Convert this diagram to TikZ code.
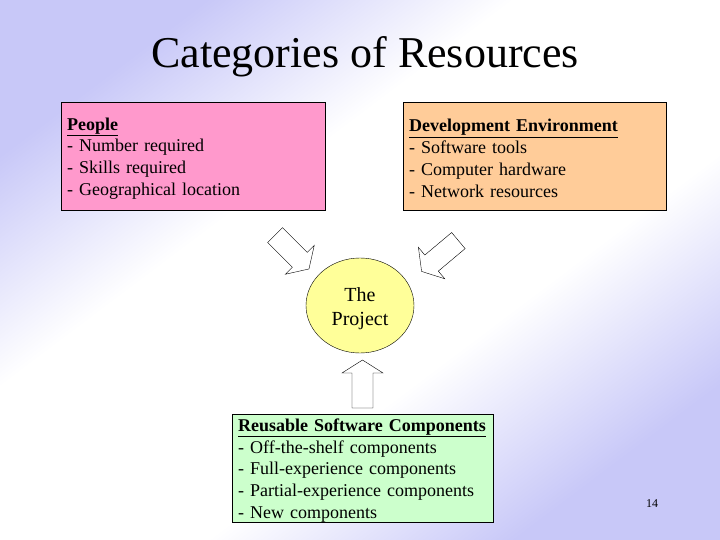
\documentclass[tikz,border=0pt]{standalone}
\usepackage{fontspec}
\setmainfont{Liberation Serif}
\usetikzlibrary{shapes.geometric}

\definecolor{lavender}{RGB}{200,200,248}
\definecolor{peoplepink}{RGB}{255,153,204}
\definecolor{envorange}{RGB}{255,204,153}
\definecolor{reusegreen}{RGB}{204,255,204}
\definecolor{projyellow}{RGB}{255,255,153}

\pgfdeclarehorizontalshading{slidebg}{100bp}{color(0bp)=(lavender); color(25bp)=(lavender);
  color(40bp)=(white); color(60bp)=(white); color(75bp)=(lavender); color(100bp)=(lavender)}

\newcommand{\firstline}{\rule{0pt}{17pt}}

\begin{document}
\begin{tikzpicture}[x=1pt,y=-1pt,
  thin,
  res box/.style={rectangle,draw,anchor=north west,inner xsep=6pt,inner ysep=0pt,
    minimum height=108pt,text width=252pt,align=left,
    font=\fontsize{18}{21.75}\selectfont},
  blockarrow/.pic={
    \draw[fill=white] (-24,-10.5) -- (11,-10.5) -- (11,-20.5) -- (24,0)
      -- (11,20.5) -- (11,10.5) -- (-24,10.5) -- cycle;
  }]

  % background
  \path[shading=slidebg,shading angle=-53] (0,0) rectangle (720,540);
  \useasboundingbox (0,0) rectangle (720,540);

  \node[font=\fontsize{44}{48}\selectfont] (title) at (365,57) {Categories of Resources};

  \node[res box,fill=peoplepink] (people) at (61,102)
    {\firstline\underline{\textbf{People}}\\- Number required\\- Skills required\\- Geographical location};
  \node[res box,fill=envorange,text width=251pt] (env) at (403,102)
    {\firstline\underline{\textbf{Development Environment}}\\- Software tools\\- Computer hardware\\- Network resources};
  \node[res box,fill=reusegreen,text width=249pt] (reuse) at (232,414)
    {\firstline\underline{\textbf{Reusable Software Components}}\\- Off-the-shelf components\\- Full-experience components\\- Partial-experience components\\- New components};

  \node[ellipse,draw,fill=projyellow,minimum width=108pt,minimum height=95pt,inner sep=0pt,
    align=center,font=\fontsize{20}{24}\selectfont] (project) at (360,305.5) {\rule{0pt}{21pt}The\\Project};

  % block arrows into the project
  \pic[rotate=-45] at (292,252) {blockarrow};
  \pic[rotate=-140] at (440,256) {blockarrow};
  \pic[rotate=90] at (362.5,384) {blockarrow};

  \node[font=\fontsize{12}{14}\selectfont] (page) at (652,504) {14};
\end{tikzpicture}
\end{document}
